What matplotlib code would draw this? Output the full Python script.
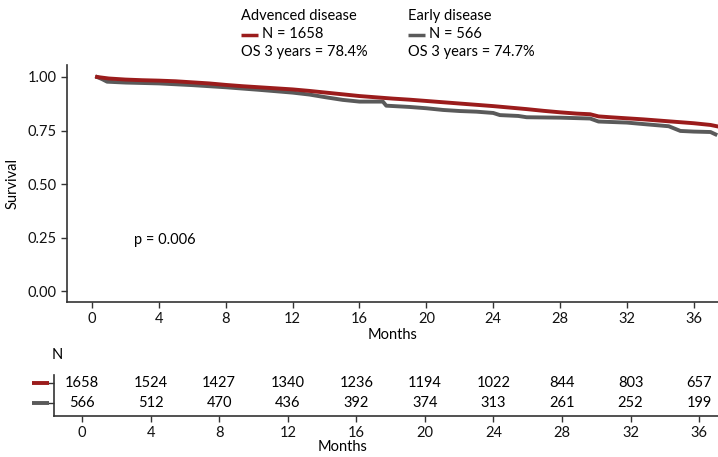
import numpy as np
import matplotlib
matplotlib.use('Agg')
from matplotlib import pyplot as plt
from matplotlib.lines import Line2D

plt.rcParams['font.family'] = ['Lato', 'DejaVu Sans']

# survival curves
adv_t = [0.3, 1, 2, 3, 4, 5, 6, 7, 8, 9, 10, 11, 12, 13, 14, 15, 16, 17, 18, 19, 20,
         21, 22, 23, 24, 25, 26, 27, 28, 29, 29.8, 30.3, 31, 32, 33, 34, 35, 36, 37, 37.5]
adv_s = [1.0, 0.993, 0.988, 0.985, 0.983, 0.980, 0.975, 0.970, 0.963, 0.957, 0.952,
         0.947, 0.942, 0.935, 0.927, 0.919, 0.911, 0.905, 0.899, 0.894, 0.888, 0.882,
         0.876, 0.870, 0.864, 0.857, 0.850, 0.842, 0.835, 0.829, 0.826, 0.816, 0.812,
         0.807, 0.802, 0.796, 0.790, 0.784, 0.776, 0.768]
early_t = [0.3, 0.6, 0.9, 2, 4, 6, 8, 10, 12, 13, 14, 15, 16, 17.4, 17.6, 19, 20, 21,
           22, 23, 24, 24.4, 25.5, 26, 28, 29.8, 30.3, 32, 33, 34.5, 35.2, 36, 37, 37.3]
early_s = [1.0, 0.99, 0.978, 0.974, 0.970, 0.962, 0.952, 0.940, 0.927, 0.918, 0.905,
           0.893, 0.885, 0.885, 0.866, 0.860, 0.854, 0.846, 0.841, 0.838, 0.832, 0.822,
           0.818, 0.812, 0.810, 0.806, 0.792, 0.787, 0.780, 0.770, 0.748, 0.745, 0.743,
           0.732]

months = [0, 4, 8, 12, 16, 20, 24, 28, 32, 36]
risk_adv = [1658, 1524, 1427, 1340, 1236, 1194, 1022, 844, 803, 657]
risk_early = [566, 512, 470, 436, 392, 374, 313, 261, 252, 199]

red = '#9b1c1c'
grey = '#5a5a5a'
fs = 10.5

fig = plt.figure(figsize=(7.18, 4.57), dpi=100)
W, H = 718., 457.

# main KM plot
ax = fig.add_axes([67/W, 1-302/H, 1-67/W, (302-65)/H])
ax.plot(early_t, early_s, color=grey, lw=2.8)
ax.plot(adv_t, adv_s, color=red, lw=2.8)
ax.set_xlim(-1.5, 37.45)
ax.set_ylim(-0.051, 1.056)
ax.set_xticks(months)
ax.set_yticks([0, 0.25, 0.5, 0.75, 1.0])
ax.set_yticklabels(['0.00', '0.25', '0.50', '0.75', '1.00'])
for s in ['top', 'right']:
    ax.spines[s].set_visible(False)
for s in ['left', 'bottom']:
    ax.spines[s].set_linewidth(1.2)
    ax.spines[s].set_color('#333333')
ax.tick_params(labelsize=fs, length=4, width=1, colors='#333333', labelcolor='#111111')
ax.set_xlabel('Months', fontsize=fs, labelpad=1)
ax.set_ylabel('Survival', fontsize=fs, labelpad=6)
ax.text(2.5, 0.22, 'p = 0.006', fontsize=fs)

# legend made of text
fig.text(241/W, 1-16/H, 'Advenced disease', fontsize=fs, va='center')
fig.text(262/W, 1-34/H, 'N = 1658', fontsize=fs, va='center')
fig.text(241/W, 1-52/H, 'OS 3 years = 78.4%', fontsize=fs, va='center')
fig.lines.append(Line2D([241/W, 258/W], [1-35/H, 1-35/H], color=red, lw=2.5,
                        solid_capstyle='butt', transform=fig.transFigure))
fig.text(408/W, 1-16/H, 'Early disease', fontsize=fs, va='center')
fig.text(429/W, 1-34/H, 'N = 566', fontsize=fs, va='center')
fig.text(408/W, 1-52/H, 'OS 3 years = 74.7%', fontsize=fs, va='center')
fig.lines.append(Line2D([408/W, 425/W], [1-35/H, 1-35/H], color=grey, lw=2.5,
                        solid_capstyle='butt', transform=fig.transFigure))

# number at risk table
rt = fig.add_axes([54/W, 1-416/H, 1-54/W, (416-375)/H])
rt.set_xlim(-1.64, 37.1)
rt.set_ylim(0, 1)
row_y = [0.80, 0.32]
for i, m in enumerate(months):
    rt.text(m, row_y[0], str(risk_adv[i]), fontsize=fs, ha='center', va='center')
    rt.text(m, row_y[1], str(risk_early[i]), fontsize=fs, ha='center', va='center')
rt.set_xticks(months)
rt.set_yticks(row_y)
rt.set_yticklabels([])
for s in ['top', 'right']:
    rt.spines[s].set_visible(False)
for s in ['left', 'bottom']:
    rt.spines[s].set_linewidth(1.2)
    rt.spines[s].set_color('#333333')
rt.tick_params(labelsize=fs, length=4, width=1, colors='#333333', labelcolor='#111111')
for yy, c in zip(row_y, [red, grey]):
    rt.plot([-22/664, -5/664], [yy, yy], transform=rt.transAxes, color=c, lw=2.8,
            solid_capstyle='butt', clip_on=False)
fig.text(57/W, 1-355/H, 'N', fontsize=fs, ha='center', va='center')
fig.text(343/W, 1-447/H, 'Months', fontsize=fs, ha='center', va='center')

fig.savefig('out.png', dpi=100)
